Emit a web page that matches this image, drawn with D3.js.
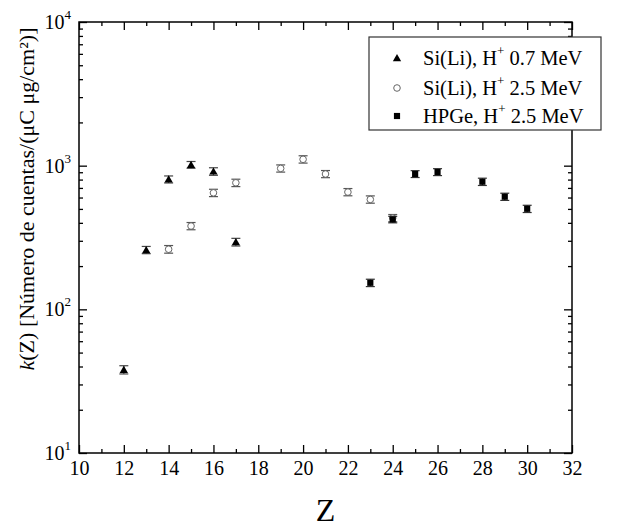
<!DOCTYPE html>
<html>
<head>
<meta charset="utf-8">
<script src="https://cdn.jsdelivr.net/npm/d3@7"></script>
<style>
  body { margin: 0; background: #fff; }
</style>
</head>
<body>
<svg width="624" height="526"></svg>
<script>
// Si(Li), H+ 0.7 MeV
const zLow = [12, 13, 14, 15, 16, 17];
const kLow = [38, 259, 803, 1014, 912, 294];
const errLow = [2.5, 15, 45, 55, 55, 18];

// Si(Li), H+ 2.5 MeV
const zSi = [14, 15, 16, 17, 19, 20, 21, 22, 23, 24];
const kSi = [262, 380, 647, 760, 957, 1107, 875, 655, 582, 432];
const errSi = [16, 22, 38, 45, 55, 65, 50, 38, 34, 25];

// HPGe, H+ 2.5 MeV
const zGe = [23, 24, 25, 26, 28, 29, 30];
const kGe = [153, 422, 875, 903, 773, 608, 501];
const errGe = [9, 22, 48, 50, 45, 35, 29];

const xTicks = [10, 12, 14, 16, 18, 20, 22, 24, 26, 28, 30, 32];
const yTicks = [10, 100, 1000, 10000];
const yExp = ['1', '2', '3', '4'];

const FONT = '"Liberation Serif", "Times New Roman", serif';

const svg = d3.select('svg');
const width = +svg.attr('width');
const height = +svg.attr('height');
const margin = {top: 22, right: 52, bottom: 73, left: 79};
const innerWidth = width - margin.left - margin.right;
const innerHeight = height - margin.top - margin.bottom;

const xScale = d3.scaleLinear().domain([10, 32]).range([0, innerWidth]);
const yScale = d3.scaleLog().domain([10, 10000]).range([innerHeight, 0]);

const g = svg.append('g')
  .attr('transform', `translate(${margin.left},${margin.top})`);

// minor ticks
const xMinor = d3.range(11, 32, 2);
const yMinor = [];
[10, 100, 1000].forEach(d => { for (let i = 2; i <= 9; i++) yMinor.push(d * i); });

const styleAxis = sel => {
  sel.select('.domain').remove();
  sel.selectAll('.tick line').attr('stroke', '#000').attr('stroke-width', 1.3);
};

// bottom
const xAxisG = g.append('g').attr('transform', `translate(0,${innerHeight})`)
  .call(d3.axisBottom(xScale).tickValues(xTicks).tickSize(-8).tickSizeOuter(0).tickPadding(6))
  .call(styleAxis);
xAxisG.selectAll('text').attr('font-size', 20).attr('dy', '0.78em');
g.append('g').attr('transform', `translate(0,${innerHeight})`)
  .call(d3.axisBottom(xScale).tickValues(xMinor).tickSize(-4).tickFormat(''))
  .call(styleAxis);
// top
g.append('g')
  .call(d3.axisTop(xScale).tickValues(xTicks).tickSize(-8).tickFormat(''))
  .call(styleAxis);
g.append('g')
  .call(d3.axisTop(xScale).tickValues(xMinor).tickSize(-4).tickFormat(''))
  .call(styleAxis);

// left
const yAxisG = g.append('g')
  .call(d3.axisLeft(yScale).tickValues(yTicks).tickSize(-8).tickPadding(14))
  .call(styleAxis);
yAxisG.selectAll('text').text(null)
  .attr('font-size', 20)
  .attr('dy', '0.32em')
  .each(function(d, i) {
    const t = d3.select(this);
    t.append('tspan').text('10');
    t.append('tspan').attr('font-size', 13).attr('dy', '-0.75em').text(yExp[i]);
  })
  .attr('x', -8);
g.append('g')
  .call(d3.axisLeft(yScale).tickValues(yMinor).tickSize(-4).tickFormat(''))
  .call(styleAxis);
// right
g.append('g').attr('transform', `translate(${innerWidth},0)`)
  .call(d3.axisRight(yScale).tickValues(yTicks).tickSize(-8).tickFormat(''))
  .call(styleAxis);
g.append('g').attr('transform', `translate(${innerWidth},0)`)
  .call(d3.axisRight(yScale).tickValues(yMinor).tickSize(-4).tickFormat(''))
  .call(styleAxis);

// frame
g.append('rect')
  .attr('width', innerWidth).attr('height', innerHeight)
  .attr('fill', 'none').attr('stroke', '#000').attr('stroke-width', 1.5);

// axis labels
svg.append('text')
  .attr('x', margin.left + innerWidth / 2).attr('y', 521)
  .attr('text-anchor', 'middle').attr('font-size', 32)
  .text('Z');

const yLabel = svg.append('text')
  .attr('transform', 'translate(34,199) rotate(-90)')
  .attr('text-anchor', 'middle').attr('font-size', 22);
yLabel.append('tspan').attr('font-style', 'italic').text('k');
yLabel.append('tspan').text('(Z) [Número de cuentas/(μC μg/cm²)]');

// error bars + markers
const errorBars = (zs, ks, es, color) => {
  const eg = g.append('g').attr('stroke', color).attr('stroke-width', 1.2);
  zs.forEach((z, i) => {
    const cx = xScale(z);
    const y0 = yScale(ks[i] - es[i]);
    const y1 = yScale(ks[i] + es[i]);
    eg.append('line').attr('x1', cx).attr('x2', cx).attr('y1', y0).attr('y2', y1);
    eg.append('line').attr('x1', cx - 4.5).attr('x2', cx + 4.5).attr('y1', y0).attr('y2', y0);
    eg.append('line').attr('x1', cx - 4.5).attr('x2', cx + 4.5).attr('y1', y1).attr('y2', y1);
  });
};

const triangle = d3.symbol().type(d3.symbolTriangle).size(30);
const square = d3.symbol().type(d3.symbolSquare).size(38);

errorBars(zSi, kSi, errSi, '#555');
g.append('g').selectAll('circle').data(zSi).enter().append('circle')
  .attr('cx', d => xScale(d))
  .attr('cy', (d, i) => yScale(kSi[i]))
  .attr('r', 3.3)
  .attr('fill', '#fff').attr('stroke', '#666').attr('stroke-width', 1);

errorBars(zLow, kLow, errLow, '#444');
g.append('g').selectAll('path').data(zLow).enter().append('path')
  .attr('d', triangle)
  .attr('transform', (d, i) => `translate(${xScale(d)},${yScale(kLow[i]) + 0.8})`)
  .attr('fill', '#000');

errorBars(zGe, kGe, errGe, '#333');
g.append('g').selectAll('path').data(zGe).enter().append('path')
  .attr('d', square)
  .attr('transform', (d, i) => `translate(${xScale(d)},${yScale(kGe[i])})`)
  .attr('fill', '#000');

// legend
const legend = svg.append('g').attr('transform', 'translate(369,37)');
legend.append('rect')
  .attr('width', 232).attr('height', 93)
  .attr('fill', '#fff').attr('stroke', '#333').attr('stroke-width', 1.2);
const legendRows = [
  {label: 'Si(Li), H', energy: ' 0.7 MeV', y: 21},
  {label: 'Si(Li), H', energy: ' 2.5 MeV', y: 51},
  {label: 'HPGe, H', energy: ' 2.5 MeV', y: 79}
];
legend.append('path').attr('d', triangle).attr('transform', `translate(28,${legendRows[0].y + 0.8})`).attr('fill', '#000');
legend.append('circle').attr('cx', 28).attr('cy', legendRows[1].y).attr('r', 3.3)
  .attr('fill', '#fff').attr('stroke', '#666');
legend.append('path').attr('d', square).attr('transform', `translate(28,${legendRows[2].y})`).attr('fill', '#000');
legendRows.forEach(r => {
  const t = legend.append('text').attr('x', 54).attr('y', r.y).attr('dy', '0.35em').attr('font-size', 20.5);
  t.append('tspan').text(r.label);
  t.append('tspan').attr('font-size', 13).attr('dy', '-0.8em').text('+');
  t.append('tspan').attr('dy', '0.5em').text(r.energy);
});

// serif font on every text, inline
svg.selectAll('text').style('font-family', FONT).style('fill', '#000');
</script>
</body>
</html>
